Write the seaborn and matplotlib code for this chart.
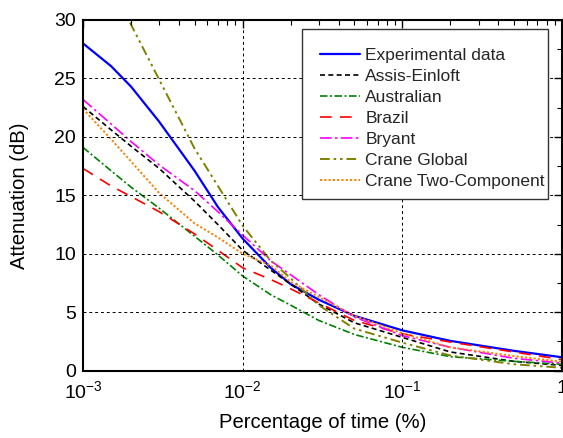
import numpy as np
import pandas as pd
import matplotlib
matplotlib.use("Agg")
import matplotlib.pyplot as plt
import seaborn as sns
from matplotlib.patches import Rectangle
from matplotlib.ticker import LogLocator, MultipleLocator, FixedLocator, FixedFormatter, NullFormatter

sns.set_theme(style="white")
plt.rcParams['font.family'] = ['Liberation Sans', 'DejaVu Sans']
plt.rcParams['mathtext.fontset'] = 'custom'
plt.rcParams['mathtext.rm'] = 'Liberation Sans'
plt.rcParams['mathtext.it'] = 'Liberation Sans:italic'
plt.rcParams['mathtext.bf'] = 'Liberation Sans:bold'

# ---- data (percentage of time vs attenuation in dB) ----
percent = [1e-3, 1.5e-3, 2e-3, 3e-3, 5e-3, 7e-3, 1e-2, 1.5e-2, 2e-2, 3e-2, 5e-2, 0.1, 0.2, 0.5, 1.0]

experimental = [28.0, 26.05, 24.3, 21.3, 17.1, 14.0, 11.3, 8.8, 7.4, 6.07, 4.7, 3.45, 2.55, 1.7, 1.15]
assis_einloft = [22.6, 20.6, 19.2, 17.3, 14.5, 12.5, 10.3, 8.6, 7.4, 5.7, 4.1, 2.85, 1.6, 0.8, 0.45]
australian = [19.1, 17.1, 15.7, 13.9, 11.5, 9.9, 8.1, 6.5, 5.6, 4.3, 3.1, 2.0, 1.2, 0.8, 0.55]
brazil = [17.3, 15.8, 14.9, 13.6, 11.7, 10.3, 8.8, 7.8, 7.0, 5.8, 4.3, 3.15, 2.45, 1.6, 0.95]
bryant = [23.2, 21.1, 19.6, 17.6, 15.4, 13.6, 11.6, 9.4, 8.2, 6.5, 4.6, 3.0, 2.0, 1.06, 0.65]
crane_global = [38.0, 33.0, 29.6, 24.9, 19.0, 15.8, 12.4, 9.4, 7.9, 5.6, 3.6, 2.4, 1.3, 0.55, 0.25]
crane_two = [22.4, 19.8, 17.9, 15.2, 12.6, 11.4, 10.0, 9.0, 7.6, 6.3, 4.7, 3.2, 2.0, 1.25, 0.77]

series_names = ["Experimental data", "Assis-Einloft", "Australian", "Brazil",
                "Bryant", "Crane Global", "Crane Two-Component"]
series_values = [experimental, assis_einloft, australian, brazil, bryant, crane_global, crane_two]

x_tick_values = [1e-3, 1e-2, 1e-1, 1]
x_tick_labels = [r'$10^{-3}$', r'$10^{-2}$', r'$10^{-1}$', '1']
y_tick_values = [0, 5, 10, 15, 20, 25, 30]

# ---- styles ----
colors = ['#0000FF', '#000000', '#008000', '#FF0000', '#FF00FF', '#808000', '#FF7F00']
widths = [1.6, 1.2, 1.2, 1.2, 1.2, 1.4, 1.4]
dashes = [None, (3.0, 2.0), (4.5, 1.5, 1.2, 1.5), (7.0, 5.0), (7.0, 2.0, 1.5, 2.0),
          (5.0, 2.0, 1.3, 2.0, 1.3, 2.0), (1.1, 1.1)]

fig = plt.figure(figsize=(5.63, 4.38), dpi=100)
ax = fig.add_axes([83/563, 1 - 370.7/438, (562-83)/563, (370.7-20)/438])

handles = []
for name, vals, c, lw, d in zip(series_names, series_values, colors, widths, dashes):
    df = pd.DataFrame({"p": percent, "att": vals})
    sns.lineplot(data=df, x="p", y="att", ax=ax, color=c, lw=lw, label=name,
                 estimator=None, sort=False)
    line = ax.get_lines()[-1]
    if d is not None:
        line.set_dashes(d)
    handles.append(line)

ax.set_xscale('log')
ax.set_xlim(1e-3, 1)
ax.set_ylim(0, 30)

ax.xaxis.set_major_locator(FixedLocator(x_tick_values))
ax.xaxis.set_major_formatter(FixedFormatter(x_tick_labels))
ax.xaxis.set_minor_locator(LogLocator(base=10, subs=np.arange(2, 10)))
ax.xaxis.set_minor_formatter(NullFormatter())
ax.yaxis.set_major_locator(FixedLocator(y_tick_values))
ax.yaxis.set_minor_locator(MultipleLocator(2.5))

ax.tick_params(which='both', direction='in', top=True, right=True, color='black',
               labelsize=14, labelcolor='black')
ax.tick_params(which='major', length=6, width=1.0, pad=5)
ax.tick_params(axis='x', which='major', pad=7)
ax.tick_params(which='minor', length=3.5, width=0.8)

for s in ax.spines.values():
    s.set_color('black')
    s.set_linewidth(1.5)

ax.grid(True, which='major', color='black', linestyle=(0, (3, 3)), linewidth=0.7)
ax.set_axisbelow(False)

ax.set_xlabel("Percentage of time (%)", fontsize=14.6, color='black', labelpad=8)
ax.set_ylabel("Attenuation (dB)", fontsize=14.6, color='black', labelpad=18)

# legend frame (box) in axes coordinates
def ax_x(px):
    return (px - 83) / 479.0

def ax_y(py):
    return (370.7 - py) / 350.7

box = Rectangle((ax_x(302.3), ax_y(199.3)), ax_x(548.3) - ax_x(302.3), ax_y(29.3) - ax_y(199.3),
                transform=ax.transAxes, facecolor='white', edgecolor='#333333',
                linewidth=1.0, zorder=4.5)
ax.add_patch(box)

leg = ax.legend(handles=handles, labels=series_names, loc='upper right',
                bbox_to_anchor=(ax_x(548.3), ax_y(44)), borderaxespad=0, fontsize=12.5,
                frameon=False, handlelength=2.3, handletextpad=0.3,
                labelspacing=0.34, borderpad=0.2)
leg.set_zorder(5)

fig.savefig("out.png", dpi=100)
